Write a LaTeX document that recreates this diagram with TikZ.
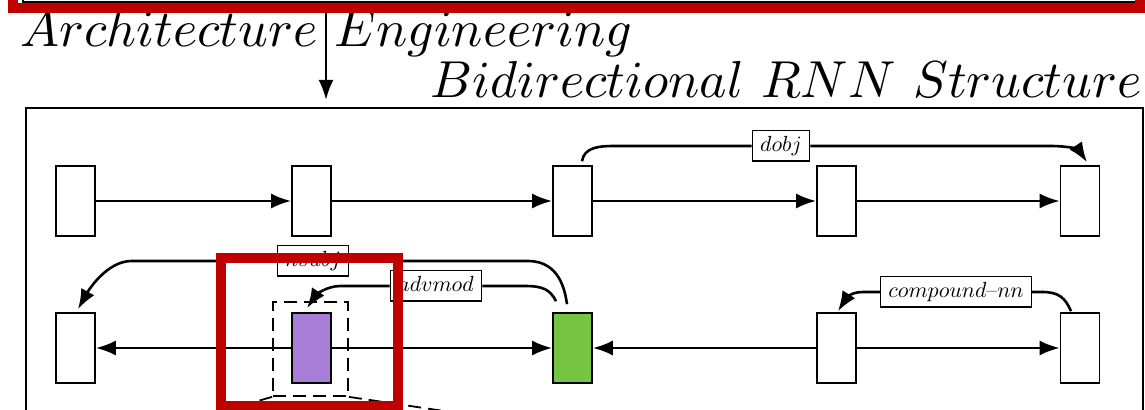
\documentclass[tikz,border=0pt]{standalone}
\usepackage{amsmath}
\usetikzlibrary{
  calc
  , arrows.meta
  , positioning
}
\definecolor{hlred}{RGB}{192,0,0}
\definecolor{cellpurple}{RGB}{167,125,214}
\definecolor{cellgreen}{RGB}{118,196,66}

\begin{document}
\begin{tikzpicture}[x=0.5pt, y=-0.5pt]
      \tikzstyle{cell}=[rectangle, draw=black, fill=white, line width=0.8pt
        , minimum width=19.5pt, minimum height=35pt, inner sep=0pt];
      \tikzstyle{flow}=[-{Latex[length=10pt, width=7.5pt]}, line width=1.3pt];
      \tikzstyle{link}=[line width=1.3pt];
      \tikzstyle{deplabel}=[rectangle, draw=black, fill=white, line width=0.6pt
        , inner xsep=4pt, inner ysep=2.3pt, text height=8pt, text depth=2.5pt
        , font=\fontsize{11}{13}\selectfont];
      \tikzstyle{title}=[inner sep=0pt];
      \tikzstyle{zoomline}=[line width=0.9pt, dash pattern=on 6.5pt off 3.5pt];

      \def \rowF {201};
      \def \rowB {348};
      \def \TitleScale {2.6};

      \clip (0,0) rectangle (1145,410);

      % outer boxes
      \node [draw, line width=0.8pt, anchor=south west
        , minimum width=560pt, minimum height=30pt] (arch) at (22,3) {};
      \node [draw, line width=0.8pt, anchor=north west
        , minimum width=558.5pt, minimum height=200pt] (birnn) at (25,107) {};
      \coordinate (archS) at (326,3);

      \node [title, anchor=base west] (archtext) at (20,47)
        {\scalebox{\TitleScale}{$Architecture\ Engineering$}};
      \node [title, anchor=base west] (birnntext) at (430,98)
        {\scalebox{\TitleScale}{$Bidirectional\ RNN\ Structure$}};

      \draw [flow] (archS) -- ($ (archS |- birnn.north) + (0,-7) $);

      % forward row
      \node [cell] (f1) at (75.5,\rowF) {};
      \node [cell] (f2) at (311.5,\rowF) {};
      \node [cell] (f3) at (572.5,\rowF) {};
      \node [cell] (f4) at (836.5,\rowF) {};
      \node [cell] (f5) at (1080,\rowF) {};

      % backward row
      \node [draw, zoomline, minimum width=37.5pt, minimum height=47pt] (b2zoom) at (310.5,349) {};
      \node [cell] (b1) at (75.5,\rowB) {};
      \node [cell, fill=cellpurple] (b2) at (311.5,\rowB) {};
      \node [cell, fill=cellgreen] (b3) at (572.5,\rowB) {};
      \node [cell] (b4) at (836.5,\rowB) {};
      \node [cell] (b5) at (1080,\rowB) {};

      \draw [flow] (f1) -- (f2);
      \draw [flow] (f2) -- (f3);
      \draw [flow] (f3) -- (f4);
      \draw [flow] (f4) -- (f5);

      \draw [flow] (b2) -- (b1);
      \draw [flow] (b2) -- (b3);
      \draw [flow] (b4) -- (b3);
      \draw [flow] (b4) -- (b5);

      % dependency labels
      \node [deplabel] (dobj) at (781,146) {$dobj$};
      \node [deplabel] (nsubj) at (313,261) {$nsubj$};
      \node [deplabel] (advmod) at (436,286) {$advmod$};
      \node [deplabel] (cnn) at (956,292) {$compound$--$nn$};

      \draw [link] ($ (f3.north) + (9.5,-4) $) .. controls +(2,-14) and +(-14,0) .. ($ (dobj.west) + (-138,0) $) -- (dobj.west);
      \draw [flow] (dobj.east) -- ($ (dobj.east) + (240,0) $) .. controls +(20,0) and +(-8,-12) .. ($ (f5.north) + (7,-3) $);

      \draw [link] ($ (b3.north) + (-5.5,-8) $) .. controls +(-4,-30) and +(22,0) .. ($ (nsubj.east) + (178,0) $) -- (nsubj.east);
      \draw [flow] (nsubj.west) -- ($ (nsubj.west) + (-145,0) $) .. controls +(-25,0) and +(10,-18) .. ($ (b1.north) + (2.5,-3) $);

      \draw [link] ($ (b3.north) + (-16.5,-11) $) .. controls +(-6,-12) and +(18,0) .. ($ (advmod.east) + (42,0) $) -- (advmod.east);
      \draw [flow] (advmod.west) -- ($ (advmod.west) + (-49,0) $) .. controls +(-15,0) and +(8,-12) .. ($ (b2.north) + (-4.5,-4) $);

      \draw [link] ($ (b5.north) + (-9,-1) $) .. controls +(-6,-14) and +(16,0) .. ($ (cnn.east) + (10,0) $) -- (cnn.east);
      \draw [flow] (cnn.west) -- ($ (cnn.west) + (-17,0) $) .. controls +(-14,0) and +(7,-11) .. ($ (b4.north) + (1.5,-1) $);

      % zoom lines
      \coordinate (zoomL) at (156,430);
      \coordinate (zoomR) at (572,430);
      \draw [zoomline] (b2zoom.south west) -- (zoomL);
      \draw [zoomline] (b2zoom.south east) -- (zoomR);

      % highlights
      \draw [hlred, line width=5pt] (13,-30) rectangle (1139.5,8);
      \draw [hlred, line width=5.25pt] (221,258) rectangle (398,406);

    \end{tikzpicture}
\end{document}
